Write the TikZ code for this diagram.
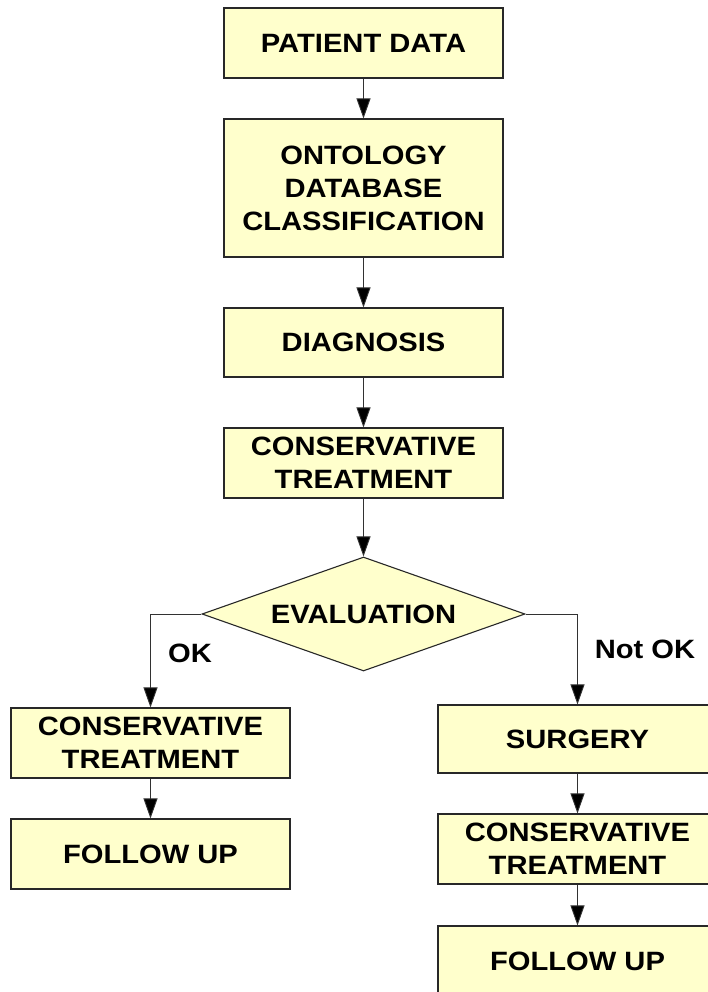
\documentclass[tikz,border=0pt]{standalone}
\usepackage{fontspec}
\setmainfont{Liberation Sans}
\newfontfamily\boxfont{Liberation Sans Bold}[FakeStretch=1.1]
\usetikzlibrary{arrows.meta,shapes.geometric}
\definecolor{boxfill}{RGB}{255,255,204}
\definecolor{boxline}{RGB}{40,40,40}
\definecolor{conline}{RGB}{50,50,50}
\tikzset{
  stepbox/.style={draw=boxline, line width=1.1pt, fill=boxfill, rectangle,
    minimum width=279pt, inner sep=0pt, align=center,
    font=\boxfont\fontsize{26.5}{33}\selectfont},
  decide/.style={draw=boxline, line width=1.1pt, fill=boxfill, diamond, aspect=2.83,
    minimum width=323pt, minimum height=114pt, inner sep=0pt,
    font=\boxfont\fontsize{26.5}{33}\selectfont},
  lbl/.style={inner sep=0pt, font=\boxfont\fontsize{26.5}{33}\selectfont},
  arr/.style={draw=conline, line width=0.9pt, -{Triangle[width=14pt,length=20pt,fill=black]}}
}
\begin{document}
\begin{tikzpicture}[x=1pt,y=-1pt]
\useasboundingbox (0,0) rectangle (707,992);
\fill[white] (0,0) rectangle (707,992);
\node[stepbox, minimum height=70pt] (pd) at (363.5,43) {PATIENT DATA};
\node[stepbox, minimum height=138pt] (ont) at (363.5,188) {ONTOLOGY\\DATABASE\\CLASSIFICATION};
\node[stepbox, minimum height=69pt] (diag) at (363.5,342.5) {DIAGNOSIS};
\node[stepbox, minimum height=70pt] (ct) at (363.5,463) {CONSERVATIVE\\TREATMENT};
\node[decide] (eval) at (363.5,614) {EVALUATION};
\node[stepbox, minimum height=70pt] (ctl) at (150.5,743) {CONSERVATIVE\\TREATMENT};
\node[stepbox, minimum height=70pt] (ful) at (150.5,854) {FOLLOW UP};
\node[stepbox, minimum height=68pt] (surg) at (577.5,739) {SURGERY};
\node[stepbox, minimum height=70pt] (ctr) at (577.5,849) {CONSERVATIVE\\TREATMENT};
\node[stepbox, minimum height=70pt] (fur) at (577.5,961) {FOLLOW UP};
\node[lbl] (ok) at (190,653) {OK};
\node[lbl] (nok) at (645,649) {Not OK};
\draw[arr] (pd.south) -- (ont.north);
\draw[arr] (ont.south) -- (diag.north);
\draw[arr] (diag.south) -- (ct.north);
\draw[arr] (ct.south) -- (eval.north);
\draw[arr] (eval.west) -| (ctl.north);
\draw[arr] (eval.east) -| (surg.north);
\draw[arr] (ctl.south) -- (ful.north);
\draw[arr] (surg.south) -- (ctr.north);
\draw[arr] (ctr.south) -- (fur.north);
\end{tikzpicture}
\end{document}
